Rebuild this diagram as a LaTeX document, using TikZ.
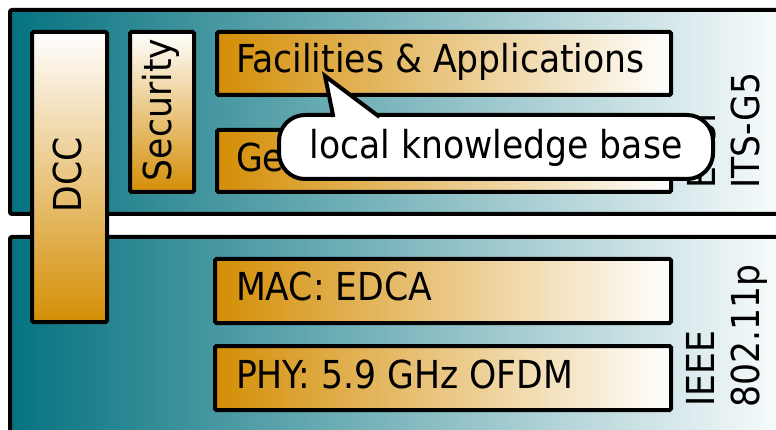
\documentclass[tikz,border=0pt]{standalone}
\usepackage{fontspec}
\setmainfont{DejaVu Sans Condensed}
\definecolor{tealA}{RGB}{5,115,128}
\definecolor{oraA}{RGB}{212,142,6}
\begin{document}
\begin{tikzpicture}[x=1pt,y=-1pt,line width=4pt,
  font=\fontsize{38.5}{40}\selectfont,
  layerbox/.style={draw=black,rounded corners=2pt,left color=tealA,right color=white,
    anchor=north west,inner sep=0pt},
  hbox/.style={draw=black,rounded corners=1.5pt,left color=oraA,right color=white,
    anchor=north west,inner sep=0pt},
  vbox/.style={draw=black,rounded corners=1.5pt,top color=white,bottom color=oraA,
    anchor=north west,inner sep=0pt},
  lbl/.style={inner sep=0pt,text height=28pt,text depth=0pt},
]
\useasboundingbox (0,0) rectangle (776,430);
% layers
\node[layerbox,minimum width=792pt,minimum height=204pt] (its) at (8,8) {};
\node[layerbox,minimum width=792pt,minimum height=210pt] (ieee) at (8,235) {};
% vertical boxes
\node[vbox,minimum width=75pt,minimum height=290pt] (dcc) at (30,30) {};
\node[vbox,minimum width=64pt,minimum height=160pt] (sec) at (128,30) {};
% horizontal boxes
\node[hbox,minimum width=454pt,minimum height=63pt] (fac) at (215,30) {};
\node[hbox,minimum width=454pt,minimum height=62pt] (geo) at (215,128) {};
\node[hbox,minimum width=456pt,minimum height=64pt] (mac) at (213,257) {};
\node[hbox,minimum width=456pt,minimum height=64pt] (phy) at (213,344) {};
% labels
\node[lbl,rotate=90] (dcct) at (67.5,175) {DCC};
\node[lbl,rotate=90] (sect) at (157.5,110) {Security};
\node[lbl,anchor=west] (fact) at (234,59) {Facilities \& Applications};
\node[lbl,anchor=west] (geot) at (234,157.5) {Ge};
\node[lbl,anchor=west] (mact) at (234,287) {MAC: EDCA};
\node[lbl,anchor=west] (phyt) at (234,374) {PHY: 5.9 GHz OFDM};
\node[lbl,rotate=90,anchor=west] (etsi) at (701,190.5) {ETSI};
\node[lbl,rotate=90,anchor=west] (itsg) at (745,191) {ITS-G5};
\node[lbl,rotate=90,anchor=west] (ieeet) at (700,408.5) {IEEE};
\node[lbl,rotate=90,anchor=west] (dot11) at (745,409.5) {802.11p};
% callout body
\node[draw,fill=white,rounded corners=26pt,inner sep=0pt,minimum width=434pt,
  minimum height=64pt] (kbbox) at (496,147) {};
% pointer
\fill[white] (325,76) -- (333.6,118) -- (381,118) -- cycle;
\draw[line join=miter] (333.4,117) -- (325,76) -- (379.6,117);
\node[inner sep=0pt,anchor=base] (kb) at (496,159) {local knowledge base};
\end{tikzpicture}
\end{document}
